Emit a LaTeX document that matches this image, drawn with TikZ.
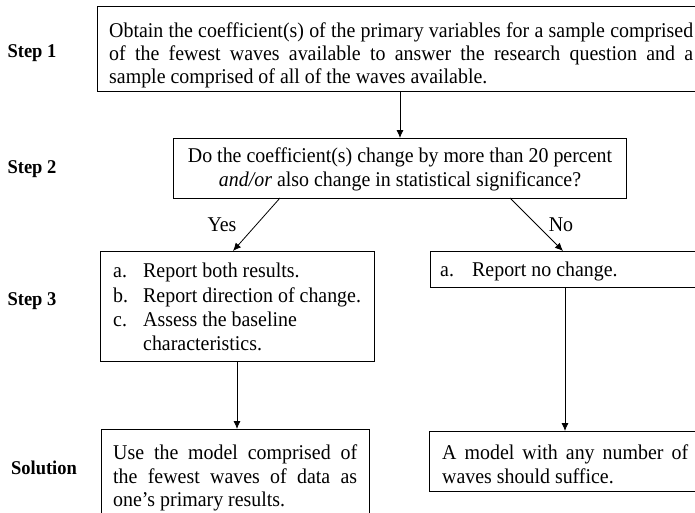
\documentclass[tikz,border=0pt]{standalone}
\usepackage{fontspec}
\setmainfont[FakeStretch=0.948]{Liberation Serif}
\usetikzlibrary{arrows.meta}
\hyphenpenalty=10000
\exhyphenpenalty=10000
\newcommand{\noshrink}{\fontdimen4\font=0pt\relax}
\begin{document}
\begin{tikzpicture}[x=1pt,y=-1pt,
  box/.style={draw, line width=1.4pt, inner sep=0pt},
  body/.style={font=\fontsize{21}{23}\selectfont, inner sep=0pt},
  bodylist/.style={font=\fontsize{21}{24.3}\selectfont, inner sep=0pt},
  bodyloose/.style={font=\fontsize{21}{23.5}\selectfont, inner sep=0pt},
  lab/.style={font=\fontsize{19.5}{22}\selectfont\bfseries},
  conn/.style={line width=0.8pt, -{Latex[length=8pt,width=7pt]}}]
\useasboundingbox (0,0) rectangle (695,512);
% boxes
\node[box, minimum width=610pt, minimum height=85pt, anchor=north west] (s1) at (97,6) {};
\node[box, minimum width=453pt, minimum height=60pt, anchor=north west] (s2) at (173,138) {};
\node[box, minimum width=274pt, minimum height=110pt, anchor=north west] (s3l) at (100,251) {};
\node[box, minimum width=280pt, minimum height=36pt, anchor=north west] (s3r) at (430,251) {};
\node[box, minimum width=268pt, minimum height=90pt, anchor=north west] (s4l) at (101,429) {};
\node[box, minimum width=280pt, minimum height=60pt, anchor=north west] (s4r) at (429,431) {};
% texts
\node[body, text width=584pt, align=justify, anchor=north west] (t1) at (109,23) {\noshrink Obtain the coefficient(s) of the primary variables for a sample comprised of the fewest waves available to answer the research question and a sample comprised of all of the waves available.\par};
\node[bodyloose, align=center, anchor=north] (t2) at (400,148) {Do the coefficient(s) change by more than 20 percent\\\textit{and/or} also change in statistical significance?};
\node[bodylist, align=left, anchor=north west] (t3l) at (113,263) {\makebox[30pt][l]{a.}Report both results.\\\makebox[30pt][l]{b.}Report direction of change.\\\makebox[30pt][l]{c.}Assess the baseline\\\hspace*{30pt}characteristics.};
\node[bodylist, align=left, anchor=north west] (t3r) at (440,262) {\makebox[32pt][l]{a.}Report no change.};
\node[bodyloose, text width=244pt, align=justify, anchor=north west] (t4l) at (113,445) {\noshrink Use the model comprised of the fewest waves of data as one's primary results.\par};
\node[bodyloose, text width=246pt, align=justify, anchor=north west] (t4r) at (442,445) {\noshrink A model with any number of waves should suffice.\par};
% labels
\node[lab] (l1) at (32,53) {Step 1};
\node[lab] (l2) at (32,169) {Step 2};
\node[lab] (l3) at (32,301) {Step 3};
\node[lab] (l4) at (44,468) {Solution};
\node[body] (yes) at (222,225) {Yes};
\node[body] (no) at (561,225) {No};
% connectors
\coordinate (a1) at (400,91);
\draw[conn] (a1) -- (s2.north -| a1);
\coordinate (y1) at (280,198);
\coordinate (y2) at (233,251);
\draw[conn] (y1) -- (y2);
\coordinate (n1) at (510,198);
\coordinate (n2) at (563,251);
\draw[conn] (n1) -- (n2);
\coordinate (d1) at (237,361);
\draw[conn] (d1) -- (d1 |- s4l.north);
\coordinate (e1) at (565,287);
\draw[conn] (e1) -- (e1 |- s4r.north);
\end{tikzpicture}
\end{document}
